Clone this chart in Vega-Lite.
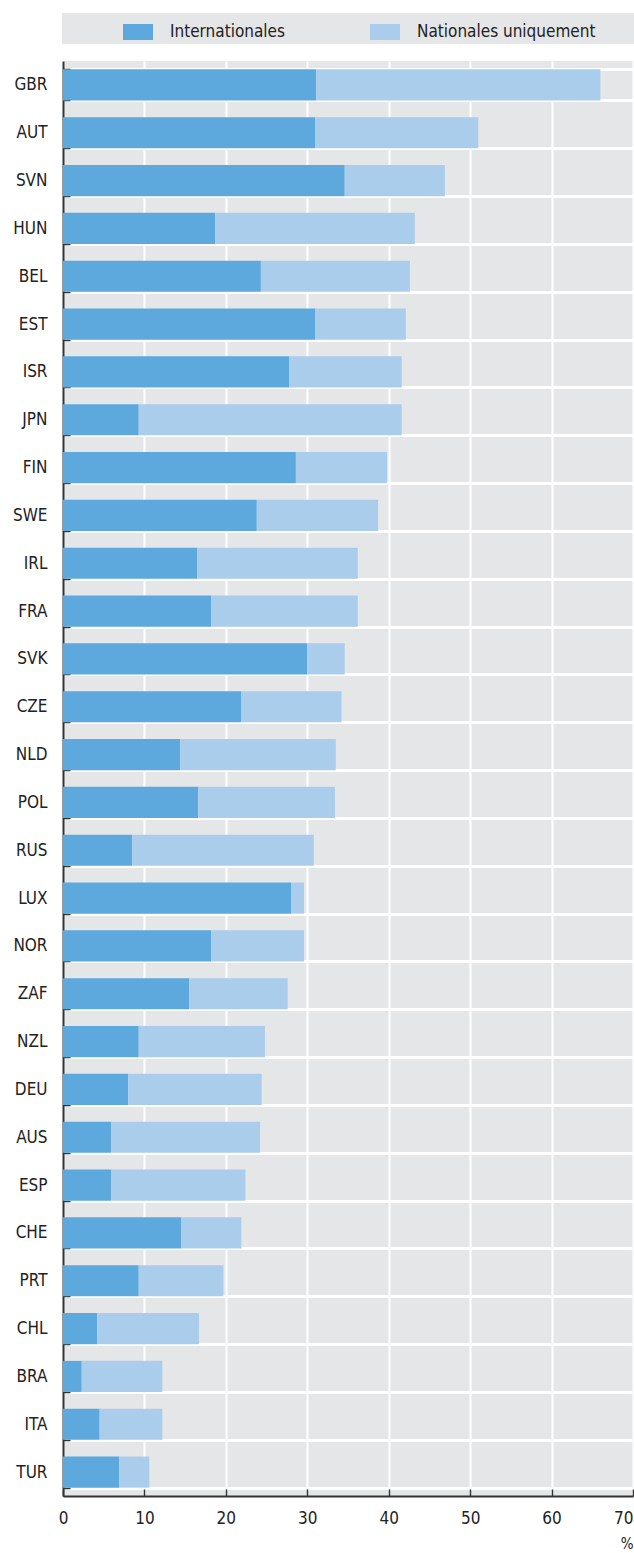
{
  "$schema": "https://vega.github.io/schema/vega-lite/v6.json",
  "autosize": {"type": "none"},
  "padding": {"left": 63, "top": 61, "right": 1, "bottom": 57},
  "width": 570,
  "height": 1435,
  "background": "white",
  "config": {
    "font": "'Liberation Sans Narrow', 'Arial Narrow', 'DejaVu Sans Condensed', sans-serif",
    "view": {"fill": "#e5e6e8", "stroke": null}
  },
  "data": {
    "values": [
      {"country": "GBR", "type": "Internationales", "value": 31.1},
      {"country": "GBR", "type": "Nationales uniquement", "value": 34.9},
      {"country": "AUT", "type": "Internationales", "value": 31.0},
      {"country": "AUT", "type": "Nationales uniquement", "value": 20.0},
      {"country": "SVN", "type": "Internationales", "value": 34.6},
      {"country": "SVN", "type": "Nationales uniquement", "value": 12.3},
      {"country": "HUN", "type": "Internationales", "value": 18.7},
      {"country": "HUN", "type": "Nationales uniquement", "value": 24.5},
      {"country": "BEL", "type": "Internationales", "value": 24.3},
      {"country": "BEL", "type": "Nationales uniquement", "value": 18.3},
      {"country": "EST", "type": "Internationales", "value": 31.0},
      {"country": "EST", "type": "Nationales uniquement", "value": 11.1},
      {"country": "ISR", "type": "Internationales", "value": 27.8},
      {"country": "ISR", "type": "Nationales uniquement", "value": 13.8},
      {"country": "JPN", "type": "Internationales", "value": 9.3},
      {"country": "JPN", "type": "Nationales uniquement", "value": 32.3},
      {"country": "FIN", "type": "Internationales", "value": 28.6},
      {"country": "FIN", "type": "Nationales uniquement", "value": 11.2},
      {"country": "SWE", "type": "Internationales", "value": 23.8},
      {"country": "SWE", "type": "Nationales uniquement", "value": 14.9},
      {"country": "IRL", "type": "Internationales", "value": 16.5},
      {"country": "IRL", "type": "Nationales uniquement", "value": 19.7},
      {"country": "FRA", "type": "Internationales", "value": 18.2},
      {"country": "FRA", "type": "Nationales uniquement", "value": 18.0},
      {"country": "SVK", "type": "Internationales", "value": 30.0},
      {"country": "SVK", "type": "Nationales uniquement", "value": 4.6},
      {"country": "CZE", "type": "Internationales", "value": 21.9},
      {"country": "CZE", "type": "Nationales uniquement", "value": 12.3},
      {"country": "NLD", "type": "Internationales", "value": 14.4},
      {"country": "NLD", "type": "Nationales uniquement", "value": 19.1},
      {"country": "POL", "type": "Internationales", "value": 16.6},
      {"country": "POL", "type": "Nationales uniquement", "value": 16.8},
      {"country": "RUS", "type": "Internationales", "value": 8.5},
      {"country": "RUS", "type": "Nationales uniquement", "value": 22.3},
      {"country": "LUX", "type": "Internationales", "value": 28.0},
      {"country": "LUX", "type": "Nationales uniquement", "value": 1.6},
      {"country": "NOR", "type": "Internationales", "value": 18.2},
      {"country": "NOR", "type": "Nationales uniquement", "value": 11.4},
      {"country": "ZAF", "type": "Internationales", "value": 15.5},
      {"country": "ZAF", "type": "Nationales uniquement", "value": 12.1},
      {"country": "NZL", "type": "Internationales", "value": 9.3},
      {"country": "NZL", "type": "Nationales uniquement", "value": 15.5},
      {"country": "DEU", "type": "Internationales", "value": 8.0},
      {"country": "DEU", "type": "Nationales uniquement", "value": 16.4},
      {"country": "AUS", "type": "Internationales", "value": 5.9},
      {"country": "AUS", "type": "Nationales uniquement", "value": 18.3},
      {"country": "ESP", "type": "Internationales", "value": 5.9},
      {"country": "ESP", "type": "Nationales uniquement", "value": 16.5},
      {"country": "CHE", "type": "Internationales", "value": 14.5},
      {"country": "CHE", "type": "Nationales uniquement", "value": 7.4},
      {"country": "PRT", "type": "Internationales", "value": 9.3},
      {"country": "PRT", "type": "Nationales uniquement", "value": 10.4},
      {"country": "CHL", "type": "Internationales", "value": 4.2},
      {"country": "CHL", "type": "Nationales uniquement", "value": 12.5},
      {"country": "BRA", "type": "Internationales", "value": 2.3},
      {"country": "BRA", "type": "Nationales uniquement", "value": 9.9},
      {"country": "ITA", "type": "Internationales", "value": 4.5},
      {"country": "ITA", "type": "Nationales uniquement", "value": 7.7},
      {"country": "TUR", "type": "Internationales", "value": 6.9},
      {"country": "TUR", "type": "Nationales uniquement", "value": 3.7}
    ]
  },
  "mark": {"type": "bar"},
  "encoding": {
    "y": {
      "field": "country",
      "type": "nominal",
      "sort": ["GBR","AUT","SVN","HUN","BEL","EST","ISR","JPN","FIN","SWE","IRL","FRA","SVK","CZE","NLD","POL","RUS","LUX","NOR","ZAF","NZL","DEU","AUS","ESP","CHE","PRT","CHL","BRA","ITA","TUR"],
      "scale": {"paddingInner": 0.35, "paddingOuter": 0.175},
      "axis": {
        "title": null,
        "tickBand": "extent",
        "grid": true,
        "gridColor": "#ffffff",
        "gridWidth": 3,
        "tickSize": -7,
        "tickColor": "#333333",
        "tickWidth": 1.5,
        "domainColor": "#333333",
        "domainWidth": 2,
        "labelFontSize": 17,
        "labelColor": "#222222",
        "labelPadding": 23
      }
    },
    "x": {
      "field": "value",
      "type": "quantitative",
      "stack": "zero",
      "scale": {"domain": [0, 70], "nice": false},
      "axis": {
        "values": [0, 10, 20, 30, 40, 50, 60, 70],
        "title": "%",
        "titleAnchor": "end",
        "titleFontWeight": "normal",
        "titleFontSize": 15,
        "titleColor": "#222222",
        "titlePadding": 10,
        "grid": true,
        "gridColor": "#ffffff",
        "gridWidth": 2,
        "tickSize": -7,
        "tickColor": "#333333",
        "tickWidth": 1.5,
        "domainColor": "#333333",
        "domainWidth": 2,
        "labelFontSize": 17,
        "labelColor": "#222222",
        "labelPadding": 21,
        "labelFlush": false,
        "labelAlign": {"expr": "datum.value == 70 ? 'right' : 'center'"}
      }
    },
    "color": {
      "field": "type",
      "type": "nominal",
      "scale": {"domain": ["Internationales", "Nationales uniquement"], "range": ["#5da9dd", "#abcdec"]},
      "legend": {
        "orient": "none",
        "legendX": -1,
        "legendY": -48,
        "direction": "horizontal",
        "columns": 2,
        "title": " ",
        "titleOrient": "left",
        "titleFontSize": 1,
        "titlePadding": 57,
        "fillColor": "#e5e6e8",
        "padding": 4,
        "symbolType": "M-1,-0.533L1,-0.533L1,0.533L-1,0.533Z",
        "symbolSize": 900,
        "symbolStrokeWidth": 0,
        "symbolOpacity": 1,
        "labelFontSize": 17,
        "labelColor": "#222222",
        "labelOffset": 17,
        "labelLimit": 400,
        "columnPadding": 85,
        "labelExpr": "datum.label == 'Nationales uniquement' ? datum.label + '\u00a0\u00a0\u00a0\u00a0\u00a0\u00a0\u00a0\u200b' : datum.label"
      }
    },
    "order": {"field": "type", "type": "nominal", "sort": "ascending"}
  }
}
